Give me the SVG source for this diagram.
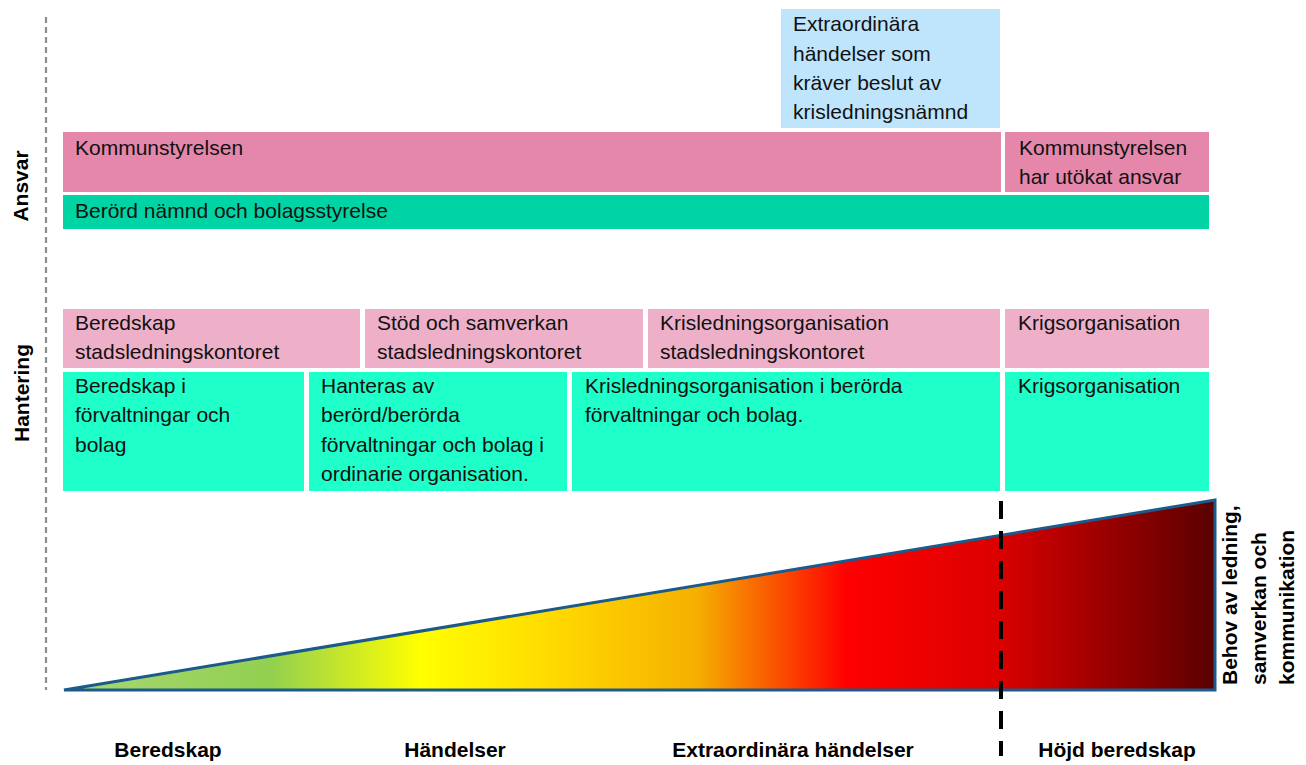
<svg xmlns="http://www.w3.org/2000/svg" width="1306" height="765" viewBox="0 0 1306 765">
<defs>
<linearGradient id="heat" gradientUnits="userSpaceOnUse" x1="63" y1="0" x2="1215" y2="0">
<stop offset="0" stop-color="#a9d676"/>
<stop offset="0.18" stop-color="#92d050"/>
<stop offset="0.31" stop-color="#ffff00"/>
<stop offset="0.43" stop-color="#ffd800"/>
<stop offset="0.55" stop-color="#f5b000"/>
<stop offset="0.68" stop-color="#ff0000"/>
<stop offset="0.81" stop-color="#dc0000"/>
<stop offset="1" stop-color="#5a0000"/>
</linearGradient>
<style>
.t{font-family:"Liberation Sans",Arial,sans-serif;font-size:21px;fill:#111}
.b{font-family:"Liberation Sans",Arial,sans-serif;font-size:21px;font-weight:bold;fill:#000}
.ks{fill:#e487ab}
.gr{fill:#00d4a4}
.bl{fill:#bfe5fd}
.lp{fill:#eeb0c8}
.cy{fill:#1effc9}
</style>
</defs>
<rect width="1306" height="765" fill="#fff"/>
<line x1="46" y1="17" x2="46" y2="690" stroke="#8c8c8c" stroke-width="2.2" stroke-dasharray="6 4"/>
<text class="b" transform="translate(28,186) rotate(-90)" text-anchor="middle">Ansvar</text>
<text class="b" transform="translate(29,393) rotate(-90)" text-anchor="middle">Hantering</text>

<g id="n-extra"><rect class="bl" x="781" y="9" width="219" height="119"/>
<text class="t" x="793" y="31">Extraordinära</text><text class="t" x="793" y="61">händelser som</text><text class="t" x="793" y="90">kräver beslut av</text><text class="t" x="793" y="119">krisledningsnämnd</text></g>

<g id="n-ks"><rect class="ks" x="63" y="132" width="938" height="60"/><text class="t" x="75" y="155">Kommunstyrelsen</text></g>
<g id="n-ks2"><rect class="ks" x="1005" y="132" width="204" height="60"/><text class="t" x="1019" y="155">Kommunstyrelsen</text><text class="t" x="1019" y="184">har utökat ansvar</text></g>
<g id="n-nb"><rect class="gr" x="63" y="195" width="1146" height="34"/><text class="t" x="75" y="218">Berörd nämnd och bolagsstyrelse</text></g>

<g id="n-h1"><rect class="lp" x="63" y="309" width="297" height="59"/><text class="t" x="75" y="330">Beredskap</text><text class="t" x="75" y="359">stadsledningskontoret</text></g>
<g id="n-h2"><rect class="lp" x="365" y="309" width="278" height="59"/><text class="t" x="377" y="330">Stöd och samverkan</text><text class="t" x="377" y="359">stadsledningskontoret</text></g>
<g id="n-h3"><rect class="lp" x="648" y="309" width="352" height="59"/><text class="t" x="660" y="330">Krisledningsorganisation</text><text class="t" x="660" y="359">stadsledningskontoret</text></g>
<g id="n-h4"><rect class="lp" x="1005" y="309" width="204" height="59"/><text class="t" x="1018" y="330">Krigsorganisation</text></g>

<g id="n-f1"><rect class="cy" x="63" y="372" width="241" height="119"/><text class="t" x="75" y="393">Beredskap i</text><text class="t" x="75" y="422">förvaltningar och</text><text class="t" x="75" y="452">bolag</text></g>
<g id="n-f2"><rect class="cy" x="309" y="372" width="258" height="119"/><text class="t" x="321" y="393">Hanteras av</text><text class="t" x="321" y="422">berörd/berörda</text><text class="t" x="321" y="452">förvaltningar och bolag i</text><text class="t" x="321" y="481">ordinarie organisation.</text></g>
<g id="n-f3"><rect class="cy" x="572" y="372" width="428" height="119"/><text class="t" x="585" y="393">Krisledningsorganisation i berörda</text><text class="t" x="585" y="422">förvaltningar och bolag.</text></g>
<g id="n-f4"><rect class="cy" x="1005" y="372" width="204" height="119"/><text class="t" x="1018" y="393">Krigsorganisation</text></g>

<g id="n-tri"><polygon points="64,690 1215,500 1215,690" fill="url(#heat)" stroke="#1b5a8a" stroke-width="3" stroke-linejoin="miter"/>
<text class="b" transform="translate(1237,685) rotate(-90)">Behov av ledning,</text>
<text class="b" transform="translate(1266,685) rotate(-90)">samverkan och</text>
<text class="b" transform="translate(1294,685) rotate(-90)">kommunikation</text></g>

<g id="connectors"><line x1="1001" y1="501" x2="1001" y2="756" stroke="#000" stroke-width="4" stroke-dasharray="18 12"/></g>

<g id="n-axis">
<text class="b" x="168" y="757" text-anchor="middle">Beredskap</text>
<text class="b" x="455" y="757" text-anchor="middle">Händelser</text>
<text class="b" x="793" y="757" text-anchor="middle">Extraordinära händelser</text>
<text class="b" x="1117" y="757" text-anchor="middle">Höjd beredskap</text>
</g>
</svg>
